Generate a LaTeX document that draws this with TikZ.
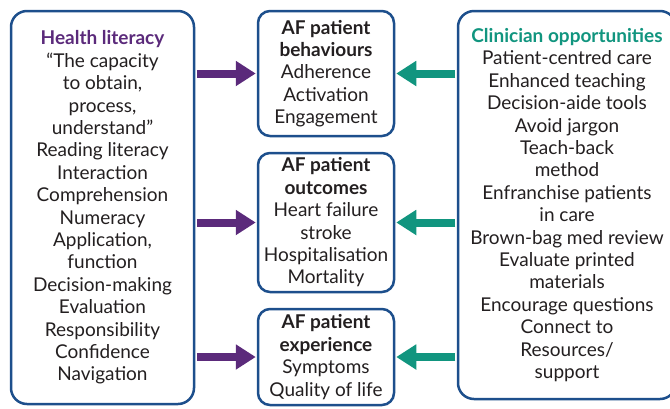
\documentclass[tikz,border=0pt]{standalone}
\usepackage{fontspec}
\setmainfont{Lato}
\usetikzlibrary{arrows.meta}

\definecolor{boxblue}{HTML}{1D4F8C}
\definecolor{litpurple}{HTML}{5B2A7B}
\definecolor{clinteal}{HTML}{11957F}
\definecolor{textgrey}{HTML}{231F20}

\begin{document}
\begin{tikzpicture}[x=1pt,y=-1pt,
  box/.style={draw=boxblue,line width=2.5pt,rounded corners=16pt,fill=white,
    align=center,inner sep=0pt,text=textgrey,font=\fontsize{19}{22.4}\selectfont},
  midbox/.style={box,rounded corners=12pt,minimum width=136pt},
  toarrow/.style={line width=8pt,shorten <=1.5pt,shorten >=1pt,
    -{Triangle[width=24pt,length=20pt]}}]

\useasboundingbox (0,0) rectangle (670,408);

% left column
\node[box,minimum width=183pt,minimum height=393pt] (lit) at (102.5,207.5)
  {\textcolor{litpurple}{\bfseries Health literacy}\\
   “The capacity\\ to obtain,\\ process,\\ understand”\\
   Reading literacy\\ Interaction\\ Comprehension\\ Numeracy\\
   Application,\\ function\\ Decision-making\\ Evaluation\\
   Responsibility\\ Confidence\\ Navigation};

% middle column
\node[midbox,minimum height=125pt] (beh) at (326,73.5)
  {{\bfseries AF patient}\\ {\bfseries behaviours}\\ Adherence\\ Activation\\ Engagement};
\node[midbox,minimum height=139pt] (out) at (326,222.5)
  {{\bfseries AF patient}\\ {\bfseries outcomes}\\ Heart failure\\ stroke\\ Hospitalisation\\ Mortality};
\node[midbox,minimum height=96pt] (exp) at (326,357)
  {{\bfseries AF patient}\\ {\bfseries experience}\\ Symptoms\\ Quality of life};

% right column
\node[box,minimum width=218pt,minimum height=388pt] (clin) at (567,205)
  {\textcolor{clinteal}{\bfseries Clinician opportunities}\\
   Patient-centred care\\ Enhanced teaching\\ Decision-aide tools\\
   Avoid jargon\\ Teach-back\\ method\\ Enfranchise patients\\ in care\\
   Brown-bag med review\\ Evaluate printed\\ materials\\
   Encourage questions\\ Connect to\\ Resources/\\ support};

% arrows into the middle boxes
\foreach \target in {beh,out,exp}{
  \draw[toarrow,litpurple] (lit.east |- \target) -- (\target.west);
  \draw[toarrow,clinteal] (clin.west |- \target) -- (\target.east);
}
\end{tikzpicture}
\end{document}
